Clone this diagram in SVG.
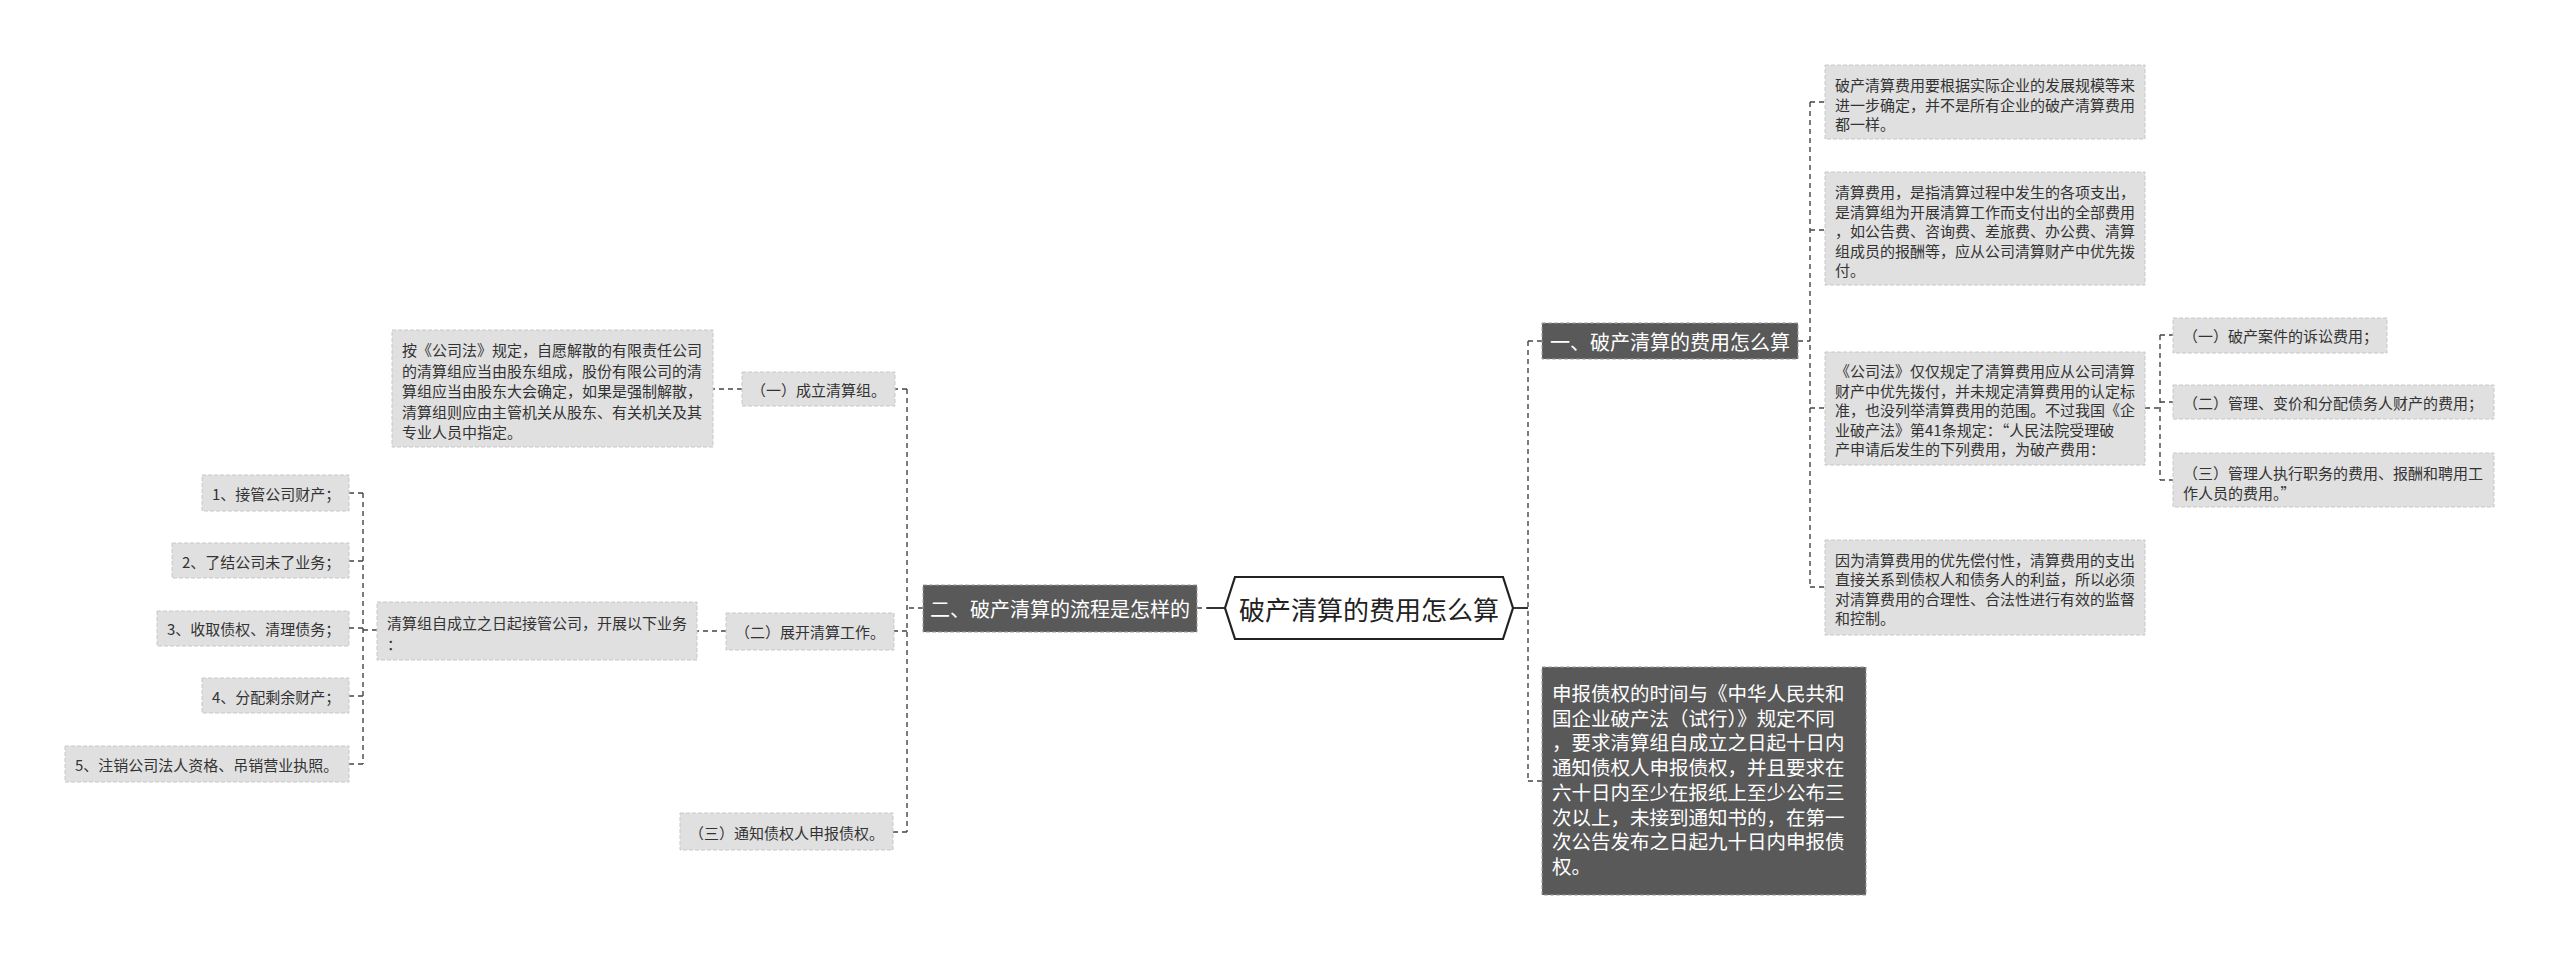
<svg xmlns="http://www.w3.org/2000/svg" width="2560" height="961" viewBox="0 0 2560 961">
<style>
text{font-family:"Noto Sans CJK SC","Microsoft YaHei",sans-serif;dominant-baseline:central}
.lb{fill:#e0e0e0;stroke:#c8c8c8;stroke-width:1;stroke-dasharray:4 2}
.db{fill:#595959;stroke:#a0a0a0;stroke-width:1;stroke-dasharray:4 2}
.lt{font-size:15px;fill:#333}
.dt{font-size:19.5px;fill:#fff}
.ht{font-size:20px;fill:#fff}
.c{fill:none;stroke:#444;stroke-width:1.4;stroke-dasharray:5 4}
.s{fill:none;stroke:#333;stroke-width:2}
</style>
<rect width="2560" height="961" fill="#fff"/>
<g id="connectors">
<path class="s" d="M1513 608H1528"/>
<path class="c" d="M1528 341V781M1528 341H1542M1528 781H1542"/>
<path class="c" d="M1798 341H1810M1810 102V587M1810 102H1825M1810 230H1825M1810 408H1825M1810 587H1825"/>
<path class="c" d="M2145 408H2160M2160 335V480M2160 335H2173M2160 402H2173M2160 480H2173"/>
<path class="s" d="M1207 608H1225"/>
<path class="c" d="M1197 608H1207"/>
<path class="c" d="M923 608H907M907 389V832M907 389H895M907 631H894M907 832H893"/>
<path class="c" d="M742 389H713"/>
<path class="c" d="M726 631H697"/>
<path class="c" d="M377 630H363M363 493V764M363 493H349M363 561H349M363 628H349M363 696H349M363 764H349"/>
</g>
<g id="root">
<polygon points="1225,608 1235,577 1503,577 1513,608 1503,639 1235,639" fill="#fff" stroke="#222" stroke-width="2.2"/>
<text x="1369" y="608" text-anchor="middle" font-size="26" fill="#222">破产清算的费用怎么算</text>
</g>
<g id="n1">
<rect class="db" x="1542" y="323" width="256" height="36"/>
<text class="ht" x="1670" y="341" text-anchor="middle">一、破产清算的费用怎么算</text>
</g>
<g id="n1a">
<rect class="lb" x="1825" y="65" width="320" height="74"/>
<text class="lt" x="1835"><tspan x="1835" y="84">破产清算费用要根据实际企业的发展规模等来</tspan><tspan x="1835" y="103.5">进一步确定，并不是所有企业的破产清算费用</tspan><tspan x="1835" y="123">都一样。</tspan></text>
</g>
<g id="n1b">
<rect class="lb" x="1825" y="172" width="320" height="113"/>
<text class="lt"><tspan x="1835" y="191">清算费用，是指清算过程中发生的各项支出，</tspan><tspan x="1835" y="210.5">是清算组为开展清算工作而支付出的全部费用</tspan><tspan x="1835" y="230">，如公告费、咨询费、差旅费、办公费、清算</tspan><tspan x="1835" y="249.5">组成员的报酬等，应从公司清算财产中优先拨</tspan><tspan x="1835" y="269">付。</tspan></text>
</g>
<g id="n1c">
<rect class="lb" x="1825" y="352" width="320" height="113"/>
<text class="lt"><tspan x="1835" y="370">《公司法》仅仅规定了清算费用应从公司清算</tspan><tspan x="1835" y="389.5">财产中优先拨付，并未规定清算费用的认定标</tspan><tspan x="1835" y="409">准，也没列举清算费用的范围。不过我国《企</tspan><tspan x="1835" y="428.5">业破产法》第41条规定：“人民法院受理破</tspan><tspan x="1835" y="448">产申请后发生的下列费用，为破产费用：</tspan></text>
</g>
<g id="n1c1">
<rect class="lb" x="2173" y="318" width="214" height="35"/>
<text class="lt" x="2183" y="335.5">（一）破产案件的诉讼费用；</text>
</g>
<g id="n1c2">
<rect class="lb" x="2173" y="385" width="321" height="34"/>
<text class="lt" x="2183" y="402">（二）管理、变价和分配债务人财产的费用；</text>
</g>
<g id="n1c3">
<rect class="lb" x="2173" y="453" width="321" height="54"/>
<text class="lt"><tspan x="2183" y="472">（三）管理人执行职务的费用、报酬和聘用工</tspan><tspan x="2183" y="491.5">作人员的费用。”</tspan></text>
</g>
<g id="n1d">
<rect class="lb" x="1825" y="540" width="320" height="95"/>
<text class="lt"><tspan x="1835" y="558.5">因为清算费用的优先偿付性，清算费用的支出</tspan><tspan x="1835" y="578">直接关系到债权人和债务人的利益，所以必须</tspan><tspan x="1835" y="597.5">对清算费用的合理性、合法性进行有效的监督</tspan><tspan x="1835" y="617">和控制。</tspan></text>
</g>
<g id="n3">
<rect class="db" x="1542" y="667" width="324" height="228"/>
<text class="dt"><tspan x="1552" y="692">申报债权的时间与《中华人民共和</tspan><tspan x="1552" y="716.7">国企业破产法（试行）》规定不同</tspan><tspan x="1552" y="741.4">，要求清算组自成立之日起十日内</tspan><tspan x="1552" y="766.1">通知债权人申报债权，并且要求在</tspan><tspan x="1552" y="790.8">六十日内至少在报纸上至少公布三</tspan><tspan x="1552" y="815.5">次以上，未接到通知书的，在第一</tspan><tspan x="1552" y="840.2">次公告发布之日起九十日内申报债</tspan><tspan x="1552" y="864.9">权。</tspan></text>
</g>
<g id="n2">
<rect class="db" x="923" y="585" width="274" height="47"/>
<text class="ht" x="1060" y="608.5" text-anchor="middle">二、破产清算的流程是怎样的</text>
</g>
<g id="n2a">
<rect class="lb" x="742" y="372" width="153" height="34"/>
<text class="lt" x="818.5" y="389" text-anchor="middle">（一）成立清算组。</text>
</g>
<g id="n2a1">
<rect class="lb" x="392" y="330" width="321" height="117"/>
<text class="lt"><tspan x="402" y="349">按《公司法》规定，自愿解散的有限责任公司</tspan><tspan x="402" y="369.5">的清算组应当由股东组成，股份有限公司的清</tspan><tspan x="402" y="390">算组应当由股东大会确定，如果是强制解散，</tspan><tspan x="402" y="410.5">清算组则应由主管机关从股东、有关机关及其</tspan><tspan x="402" y="431">专业人员中指定。</tspan></text>
</g>
<g id="n2b">
<rect class="lb" x="726" y="613" width="168" height="37"/>
<text class="lt" x="810" y="631.5" text-anchor="middle">（二）展开清算工作。</text>
</g>
<g id="n2b1">
<rect class="lb" x="377" y="602" width="320" height="58"/>
<text class="lt"><tspan x="387" y="622">清算组自成立之日起接管公司，开展以下业务</tspan><tspan x="387" y="643">：</tspan></text>
</g>
<g id="i1">
<rect class="lb" x="202" y="475" width="147" height="36"/>
<text class="lt" x="212" y="493">1、接管公司财产；</text>
</g>
<g id="i2">
<rect class="lb" x="172" y="543" width="177" height="35"/>
<text class="lt" x="182" y="561">2、了结公司未了业务；</text>
</g>
<g id="i3">
<rect class="lb" x="157" y="611" width="192" height="35"/>
<text class="lt" x="167" y="628.5">3、收取债权、清理债务；</text>
</g>
<g id="i4">
<rect class="lb" x="202" y="678" width="147" height="35"/>
<text class="lt" x="212" y="696">4、分配剩余财产；</text>
</g>
<g id="i5">
<rect class="lb" x="65" y="746" width="284" height="36"/>
<text class="lt" x="75" y="764">5、注销公司法人资格、吊销营业执照。</text>
</g>
<g id="n2c">
<rect class="lb" x="680" y="813" width="213" height="37"/>
<text class="lt" x="786.5" y="832" text-anchor="middle">（三）通知债权人申报债权。</text>
</g>
</svg>
